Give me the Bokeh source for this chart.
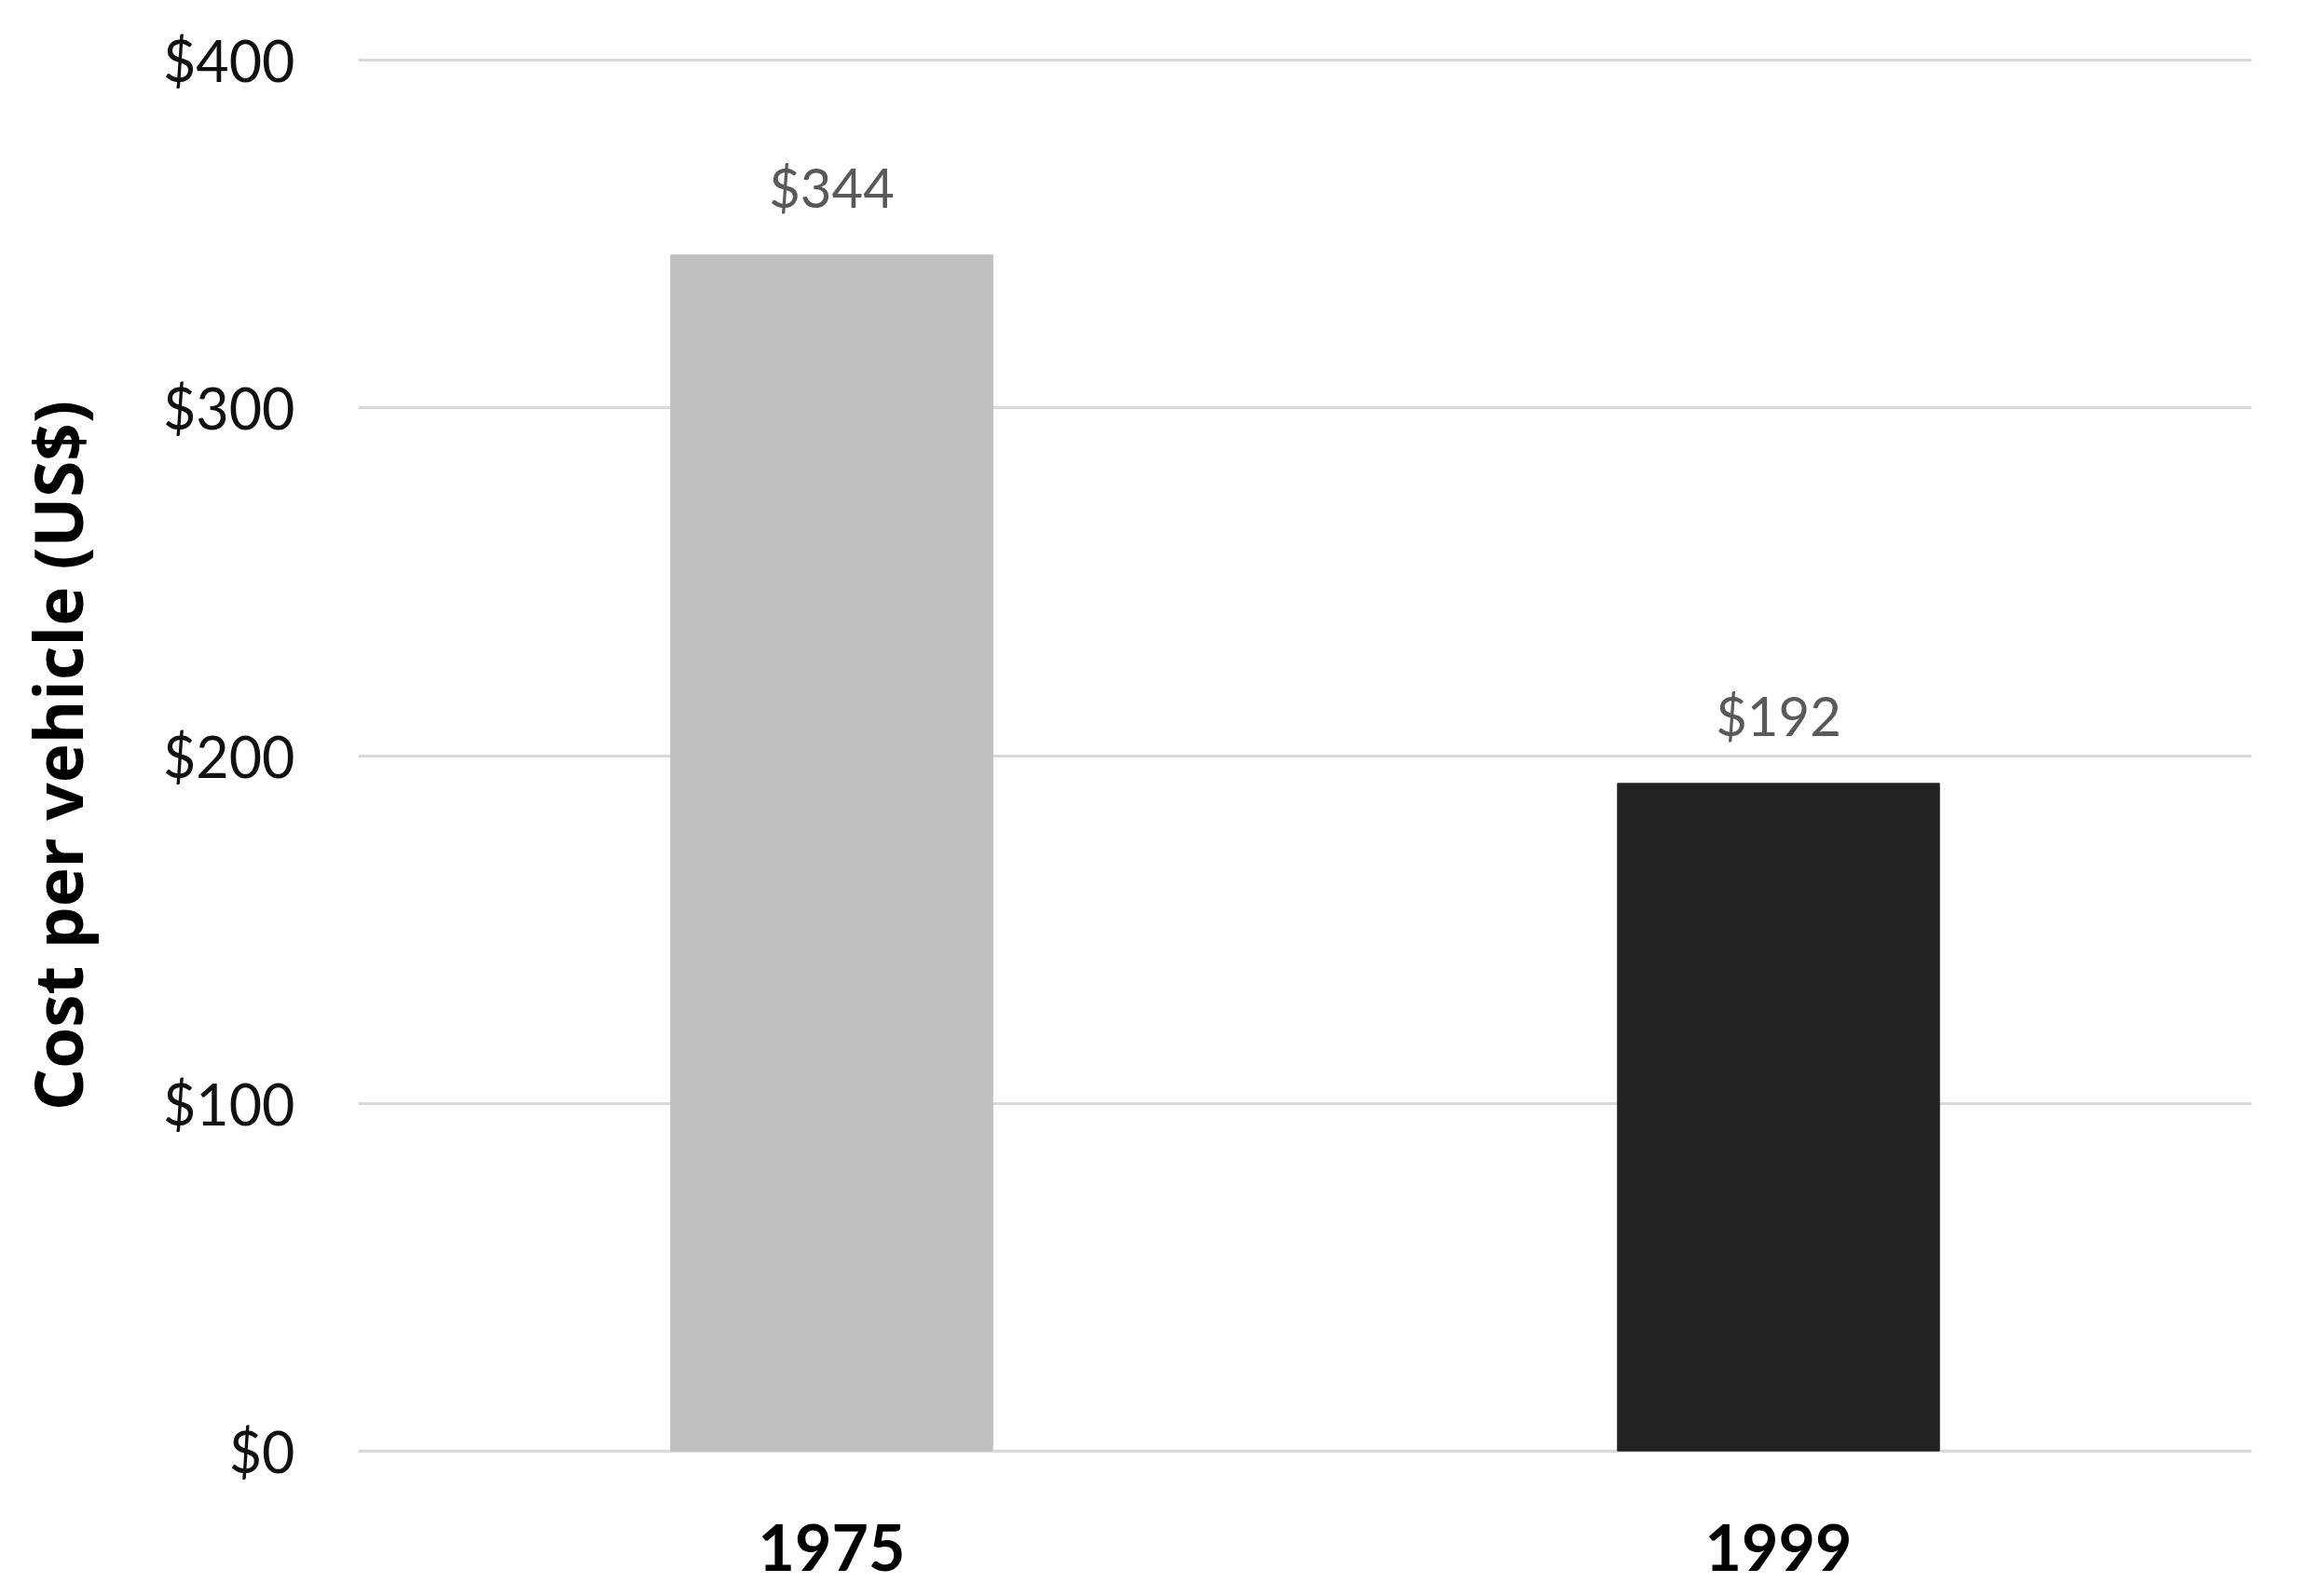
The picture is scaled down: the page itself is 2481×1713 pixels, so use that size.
from bokeh.plotting import figure
from bokeh.models import ColumnDataSource, NumeralTickFormatter, Range1d, FixedTicker
from bokeh.core.properties import value
from bokeh.embed import file_html
from bokeh.resources import INLINE

years = ["1975", "1999"]
costs = [344, 192]
bar_colors = ["#BFBFBF", "#222222"]
y_ticks = [0, 100, 200, 300, 400]

src = ColumnDataSource(dict(
    year=years,
    cost=costs,
    color=bar_colors,
    label=["$" + str(c) for c in costs],
))

p = figure(
    x_range=years,
    y_range=Range1d(-0.6, 400.6),
    width=2473, height=1705,
    output_backend="svg", toolbar_location=None,
    min_border_left=384, min_border_right=57,
    min_border_top=62, min_border_bottom=146,
)
p.outline_line_color = None
p.background_fill_color = "white"
p.border_fill_color = "white"

p.vbar(x="year", bottom=0, top="cost", width=0.34, color="color", source=src)

p.text(x="year", y="cost", text="label", source=src,
       text_align="center", text_baseline="bottom", y_offset=-39,
       text_font=value("Lato"), text_font_size="58px", text_color="#595959")

# grid
p.xgrid.grid_line_color = None
p.ygrid.grid_line_color = "#D9D9D9"
p.ygrid.grid_line_width = 3

# y axis
p.yaxis.ticker = FixedTicker(ticks=y_ticks)
p.yaxis.formatter = NumeralTickFormatter(format="$0")
p.yaxis.axis_line_color = None
p.yaxis.major_tick_line_color = None
p.yaxis.minor_tick_line_color = None
p.yaxis.major_label_text_font = "Lato"
p.yaxis.major_label_text_font_size = "61px"
p.yaxis.major_label_text_color = "#111111"
p.yaxis.major_label_standoff = 62
p.yaxis.axis_label = "Cost per vehicle (US$)"
p.yaxis.axis_label_text_font = "Open Sans"
p.yaxis.axis_label_text_font_style = "bold"
p.yaxis.axis_label_text_font_size = "71px"
p.yaxis.axis_label_text_color = "#000000"
p.yaxis.axis_label_standoff = 62

# x axis
p.xaxis.axis_line_color = None
p.xaxis.major_tick_line_color = None
p.xaxis.minor_tick_line_color = None
p.xaxis.major_label_text_font = "Lato"
p.xaxis.major_label_text_font_style = "bold"
p.xaxis.major_label_text_font_size = "68px"
p.xaxis.major_label_text_color = "#000000"
p.xaxis.major_label_standoff = 70

open("out.html", "w").write(file_html(p, INLINE))
